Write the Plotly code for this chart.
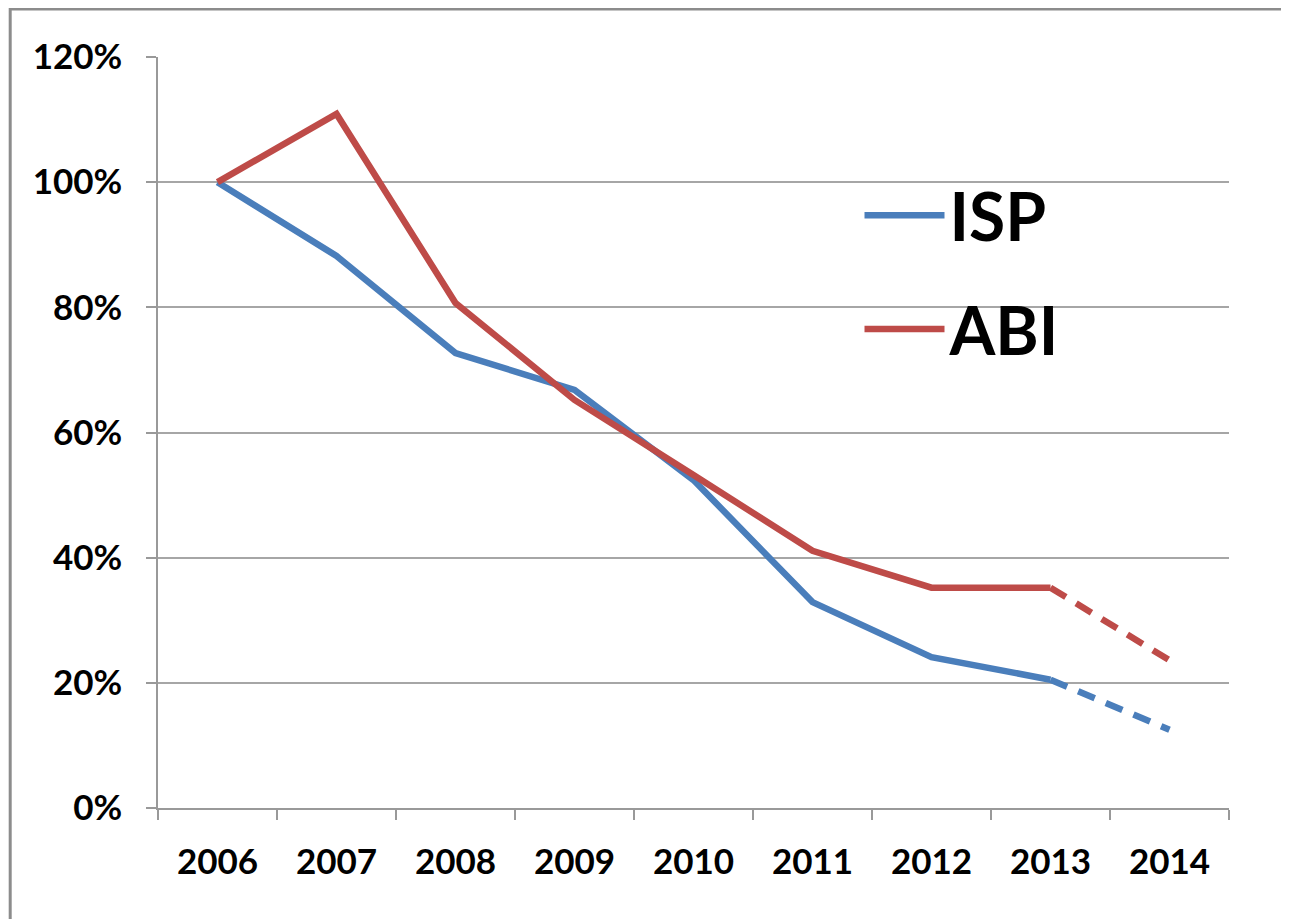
import plotly.graph_objects as go

years = ["2006", "2007", "2008", "2009", "2010", "2011", "2012", "2013", "2014"]
isp = [1.00, 0.882, 0.727, 0.668, 0.524, 0.329, 0.241, 0.205, 0.125]
abi = [1.00, 1.109, 0.807, 0.652, 0.532, 0.411, 0.352, 0.352, 0.236]
y_ticks = [0, 0.2, 0.4, 0.6, 0.8, 1.0, 1.2]

blue = "#4a7ebb"
red = "#be4b48"
solid_n = 8  # points 2006..2013 solid, 2013..2014 dashed
lw = 6.5
dash = "18px,12px"

fig = go.Figure()
fig.add_trace(go.Scatter(x=years[:solid_n], y=isp[:solid_n], mode="lines", name="ISP",
                         line=dict(color=blue, width=lw), legendgroup="isp"))
fig.add_trace(go.Scatter(x=years[solid_n - 1:], y=isp[solid_n - 1:], mode="lines", name="ISP",
                         line=dict(color=blue, width=lw, dash=dash), legendgroup="isp", showlegend=False))
fig.add_trace(go.Scatter(x=years[:solid_n], y=abi[:solid_n], mode="lines", name="ABI",
                         line=dict(color=red, width=lw), legendgroup="abi"))
fig.add_trace(go.Scatter(x=years[solid_n - 1:], y=abi[solid_n - 1:], mode="lines", name="ABI",
                         line=dict(color=red, width=lw, dash=dash), legendgroup="abi", showlegend=False))

font = dict(family="Lato", size=35, color="black", weight="bold")

fig.update_layout(
    width=1281, height=911,
    margin=dict(l=150, r=60, t=49, b=111),
    paper_bgcolor="white", plot_bgcolor="white",
    font=font,
    showlegend=True,
    legend=dict(x=0.655, y=0.855, xanchor="left", yanchor="top",
                font=dict(family="Lato", size=66, color="black", weight="bold"),
                bgcolor="rgba(0,0,0,0)", tracegroupgap=25, itemwidth=80),
    xaxis=dict(type="category", range=[-0.5, 8.5], showgrid=False,
               showline=True, linecolor="#999999", linewidth=1.5,
               ticks="outside", tickson="boundaries", ticklen=10, tickcolor="#999999",
               tickwidth=1.5, tickfont=font, ticklabelstandoff=22),
    yaxis=dict(range=[0, 1.2], tickvals=y_ticks, tickformat=".0%",
               showgrid=True, gridcolor="#a6a6a6", gridwidth=1.5,
               showline=True, linecolor="#999999", linewidth=1.5,
               ticks="outside", ticklen=10, tickcolor="#999999", tickwidth=1.5,
               tickfont=font, zeroline=False, ticklabelstandoff=17),
    shapes=[dict(type="path", xref="paper", yref="paper",
                 path="M -0.138,-0.3 L -0.138,1.064 L 1.2,1.064",
                 line=dict(color="#8c8c8c", width=3))],
)

fig.write_html("out.html")
